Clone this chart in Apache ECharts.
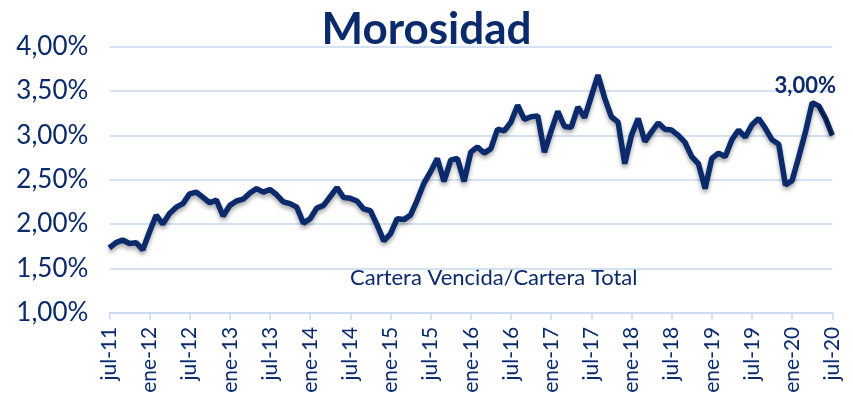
<!DOCTYPE html>
<html>
<head>
<meta charset="utf-8">
<script src="https://cdn.jsdelivr.net/npm/echarts@6/dist/echarts.min.js"></script>
<style>html,body{margin:0;padding:0;background:#fff}#c{width:853px;height:406px}</style>
</head>
<body>
<div id="c"></div>
<script>
const monthNames = ['ene','feb','mar','abr','may','jun','jul','ago','sep','oct','nov','dic'];
const startYear = 2011, startMonth = 6, monthCount = 109;
const categories = [];
for (let i = 0; i < monthCount; i++) {
  const m = (startMonth + i) % 12;
  const y = startYear + Math.floor((startMonth + i) / 12);
  categories.push(monthNames[m] + '-' + String(y).slice(2));
}
const morosidad = [
  1.73,1.79,1.82,1.78,1.79,1.71,1.91,2.10,2.00,2.12,2.19,2.23,
  2.34,2.36,2.30,2.24,2.27,2.09,2.21,2.26,2.28,2.35,2.40,2.36,
  2.39,2.33,2.25,2.23,2.19,2.01,2.06,2.18,2.21,2.31,2.41,2.30,
  2.29,2.26,2.17,2.15,1.99,1.81,1.89,2.06,2.05,2.10,2.27,2.46,
  2.59,2.74,2.48,2.72,2.74,2.48,2.81,2.87,2.80,2.85,3.07,3.05,
  3.15,3.34,3.18,3.21,3.22,2.81,3.05,3.27,3.10,3.09,3.32,3.20,
  3.44,3.68,3.42,3.21,3.15,2.68,3.00,3.19,2.93,3.04,3.14,3.07,
  3.06,3.00,2.92,2.76,2.68,2.40,2.74,2.80,2.76,2.95,3.06,2.98,
  3.12,3.19,3.08,2.95,2.90,2.44,2.49,2.76,3.04,3.37,3.33,3.19,
  3.00
];
const lastLabel = '3,00%';
const subtitle = 'Cartera Vencida/Cartera Total';
const titleText = 'Morosidad';

const navy = '#0a2a6b';
const lastIdx = morosidad.length - 1;
const overlay = morosidad.map((v, i) => i >= morosidad.length - 3 ? v : null);

const chart = echarts.init(document.getElementById('c'), null, {renderer: 'canvas'});
chart.setOption({
  animation: false,
  backgroundColor: '#ffffff',
  title: {
    text: titleText, left: 'center', top: 3,
    textStyle: {fontFamily: 'Lato', fontWeight: 'bold', fontSize: 44, color: navy}
  },
  grid: {left: 109.3, right: 20.7, top: 46.7, bottom: 93.3, containLabel: false},
  xAxis: {
    type: 'category', data: categories, boundaryGap: false,
    axisLine: {lineStyle: {color: '#c6d9f1', width: 1.5}},
    axisTick: {show: true, interval: 5, length: 7, lineStyle: {color: '#c6d9f1', width: 1.5}},
    axisLabel: {interval: 5, rotate: 90, margin: 14, color: navy, fontFamily: 'Lato', fontSize: 21},
    splitLine: {show: false}
  },
  yAxis: {
    type: 'value', min: 1, max: 4, interval: 0.5,
    axisLine: {show: false}, axisTick: {show: false},
    axisLabel: {margin: 21, color: navy, fontFamily: 'Lato', fontSize: 26,
      formatter: v => v.toFixed(2).replace('.', ',') + '%'},
    splitLine: {lineStyle: {color: '#c6d9f1', width: 1.5}}
  },
  graphic: [{
    type: 'text', left: 350, top: 267,
    style: {text: subtitle, fill: navy, font: '22px Lato'}
  }],
  series: [{
    type: 'line', data: morosidad, symbol: 'none', smooth: false,
    lineStyle: {color: navy, width: 5.5, shadowColor: 'rgba(0,0,0,0.35)', shadowBlur: 4, shadowOffsetY: 3},
    itemStyle: {color: navy}, z: 3,
    markPoint: {
      symbol: 'circle', symbolSize: 0, silent: true,
      data: [{coord: [lastIdx, morosidad[lastIdx]], value: lastLabel}],
      label: {show: true, formatter: lastLabel, position: 'top', offset: [-27, -33],
              color: navy, fontFamily: 'Lato', fontWeight: 'bold', fontSize: 22}
    }
  }, {
    type: 'line', data: overlay, symbol: 'none',
    lineStyle: {color: '#000000', width: 1}, z: 4
  }]
});
</script>
</body>
</html>
